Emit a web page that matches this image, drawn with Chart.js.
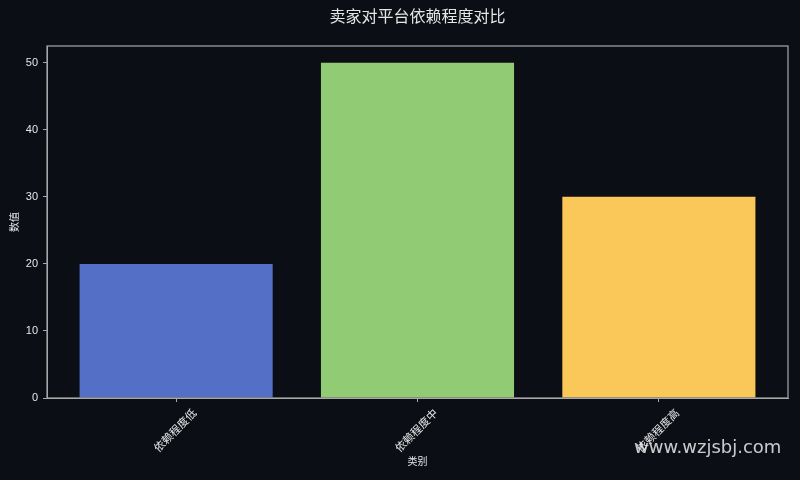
<!DOCTYPE html>
<html>
<head>
<meta charset="utf-8">
<script src="https://cdn.jsdelivr.net/npm/chart.js@4.4.1/dist/chart.umd.min.js"></script>
<style>
  html, body { margin: 0; padding: 0; background: #0b0e15; }
  #wrap { position: relative; width: 800px; height: 480px; }
  #mark {
    position: absolute; left: 634px; top: 436px;
    font-family: "DejaVu Sans", sans-serif; font-size: 18px;
    color: rgba(235, 235, 235, 0.85);
  }
</style>
</head>
<body>
<div id="wrap">
  <canvas id="barChart" width="800" height="480"></canvas>
  <div id="mark">www.wzjsbj.com</div>
</div>
<script>
  const categories = ['依赖程度低', '依赖程度中', '依赖程度高'];
  const values = [20, 50, 30];
  const barColors = ['#5470c6', '#91cc75', '#fac858'];
  const yTicks = [0, 10, 20, 30, 40, 50];

  const fontFamily = '"Liberation Sans", "Noto Sans CJK SC", sans-serif';
  const textColor = '#e6e6e6';
  const axisColor = '#a8a8a8';

  // draw the box round the plot area
  const frame = {
    id: 'frame',
    afterDatasetsDraw(chart) {
      const a = chart.chartArea;
      const ctx = chart.ctx;
      ctx.save();
      ctx.strokeStyle = axisColor;
      ctx.lineWidth = 1.2;
      ctx.strokeRect(a.left, a.top, a.right - a.left, a.bottom - a.top);
      ctx.restore();
    }
  };

  const ctx = document.getElementById('barChart').getContext('2d');
  new Chart(ctx, {
    type: 'bar',
    data: {
      datasets: [{
        label: '数值',
        data: values.map((v, i) => ({ x: i, y: v })),
        backgroundColor: barColors,
        borderWidth: 0,
        barPercentage: 0.8,
        categoryPercentage: 1.0
      }]
    },
    options: {
      responsive: false,
      animation: false,
      layout: { padding: { left: 0, right: 12, top: 0, bottom: 0 } },
      plugins: {
        legend: { display: false },
        tooltip: { enabled: false },
        title: {
          display: true,
          fullSize: false,
          text: '卖家对平台依赖程度对比',
          color: textColor,
          font: { family: fontFamily, size: 16, weight: 'normal', lineHeight: 1.2 },
          padding: { top: 8, bottom: 18.8 }
        }
      },
      scales: {
        x: {
          type: 'linear',
          min: -0.535,
          max: 2.535,
          offset: false,
          grid: { offset: false, drawOnChartArea: false, drawTicks: true, tickLength: 4, color: axisColor },
          border: { display: true, color: axisColor },
          afterBuildTicks(scale) {
            scale.ticks = categories.map((c, i) => ({ value: i }));
          },
          ticks: {
            color: textColor,
            font: { family: fontFamily, size: 11 },
            maxRotation: 45,
            minRotation: 45,
            padding: 5,
            labelOffset: 19,
            callback: (v) => categories[v]
          },
          title: {
            display: true,
            text: '类别',
            color: textColor,
            font: { family: fontFamily, size: 10 },
            padding: { top: 4, bottom: 12 }
          },
          afterFit(scale) { scale.height = 82; }
        },
        y: {
          min: 0,
          max: 52.5,
          grid: { drawOnChartArea: false, drawTicks: true, tickLength: 4, color: axisColor },
          border: { display: true, color: axisColor },
          afterBuildTicks(scale) {
            scale.ticks = yTicks.map(v => ({ value: v }));
          },
          ticks: {
            color: textColor,
            font: { family: fontFamily, size: 11 },
            padding: 5
          },
          title: {
            display: true,
            text: '数值',
            color: textColor,
            font: { family: fontFamily, size: 10 },
            padding: { top: 9, bottom: 4 }
          },
          afterFit(scale) { scale.width = 47; }
        }
      }
    },
    plugins: [frame]
  });
</script>
</body>
</html>
